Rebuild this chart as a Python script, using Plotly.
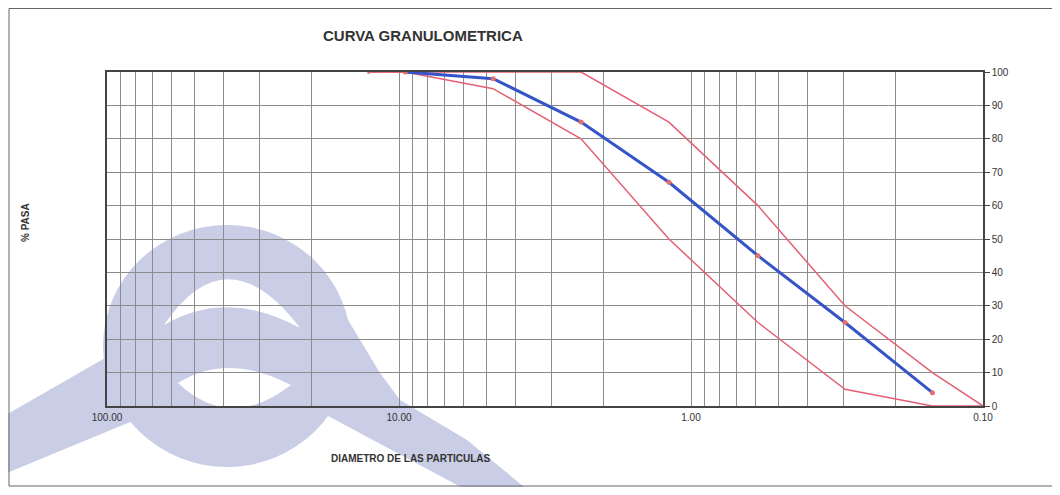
import plotly.graph_objects as go

# ---- data ----
tamiz = [12.7, 9.525, 4.76, 2.38, 1.19, 0.59, 0.297, 0.149, 0.10]
lim_sup = [100, 100, 100, 100, 85, 60, 30, 10, 0]
lim_inf = [100, 100, 95, 80, 50, 25, 5, 0, 0]
muestra_x = [9.525, 4.76, 2.38, 1.19, 0.59, 0.297, 0.149]
muestra_y = [100, 98, 85, 67, 45, 25, 4]

x_ticks = [100, 10, 1, 0.1]
x_ticktext = ["100.00", "10.00", "1.00", "0.10"]
x_minor = [m * 10 ** e for e in (-1, 0, 1) for m in range(2, 10)]
y_ticks = list(range(0, 101, 10))

# ---- layout geometry (reference pixels; page body has an 8px margin) ----
OFF = 8
W, H = 1060 - 2 * OFF, 495 - 2 * OFF
PL, PR, PT, PB = 107, 983, 72, 406          # plot box in reference pixels
ML, MT = PL - OFF, PT - OFF
MR, MB = W - (PR - OFF), H - (PB - OFF)
PW, PH = PR - PL, PB - PT


def px(x, y):
    return (x - PL) / PW, (PB - y) / PH


def path(cmds):
    s = []
    for cmd, pts in cmds:
        s.append(cmd + " " + " ".join("%.5f,%.5f" % px(*p) for p in pts))
    return " ".join(s) + " Z"


def poly(pts):
    return path([("M", [pts[0]])] + [("L", [p]) for p in pts[1:]])


fig = go.Figure()

red = "rgb(228,96,116)"
blue = "rgb(52,84,200)"
dot = "rgb(232,112,104)"

fig.add_trace(go.Scatter(x=tamiz, y=lim_sup, mode="lines+markers",
                         line=dict(color=red, width=1.5),
                         marker=dict(color=red, size=[5] + [0] * (len(tamiz) - 1)),
                         showlegend=False, hoverinfo="x+y"))
fig.add_trace(go.Scatter(x=tamiz, y=lim_inf, mode="lines",
                         line=dict(color=red, width=1.5),
                         showlegend=False, hoverinfo="x+y"))
fig.add_trace(go.Scatter(x=muestra_x, y=muestra_y, mode="lines+markers",
                         line=dict(color=blue, width=3),
                         marker=dict(color=dot, size=5),
                         showlegend=False, hoverinfo="x+y"))

# ---- watermark (decorative) ----
lav = "rgb(201,205,229)"
shapes = []
x0, y0 = px(227 - 124, 346 - 121)
x1, y1 = px(227 + 124, 346 + 121)
shapes.append(dict(type="circle", xref="paper", yref="paper", x0=x0, x1=x1, y0=y0, y1=y1,
                   fillcolor=lav, line=dict(width=0), layer="below"))
shapes.append(dict(type="path", xref="paper", yref="paper", layer="below",
                   path=poly([(-10, 424), (112, 354), (135, 420), (-10, 480)]),
                   fillcolor=lav, line=dict(width=0)))
shapes.append(dict(type="path", xref="paper", yref="paper", layer="below",
                   path=poly([(330, 290), (380, 373), (400, 400), (467, 440),
                              (540, 500), (485, 500), (330, 417), (295, 400)]),
                   fillcolor=lav, line=dict(width=0)))
shapes.append(dict(type="path", xref="paper", yref="paper", layer="below",
                   path=path([("M", [(164, 325)]), ("Q", [(227, 232), (300, 328)]),
                              ("Q", [(227, 288), (164, 325)])]),
                   fillcolor="white", line=dict(width=0)))
shapes.append(dict(type="path", xref="paper", yref="paper", layer="below",
                   path=path([("M", [(178, 383)]), ("Q", [(227, 352), (291, 385)]),
                              ("Q", [(230, 432), (178, 383)])]),
                   fillcolor="white", line=dict(width=0)))
# scanned page frame (kept just inside the figure)
fx0, fy0 = px(OFF + 1, OFF + 0.5)
fx1, fy1 = px(OFF + W, OFF + H - 1)
frame = "#666666"
shapes.append(dict(type="line", xref="paper", yref="paper", x0=fx0, x1=fx1, y0=fy0, y1=fy0,
                   line=dict(color=frame, width=1)))
shapes.append(dict(type="line", xref="paper", yref="paper", x0=fx0, x1=fx0, y0=fy0, y1=fy1,
                   line=dict(color=frame, width=1)))
shapes.append(dict(type="line", xref="paper", yref="paper", x0=fx0, x1=fx1, y0=fy1, y1=fy1,
                   line=dict(color=frame, width=1)))

font = "Liberation Sans, Arial, sans-serif"
tx, ty = px(423, 35)
ax_, ay_ = px(411, 458)
yx, yy = px(26, 223)
annotations = [
    dict(text="<b>CURVA GRANULOMETRICA</b>", x=tx, y=ty, xref="paper", yref="paper",
         xanchor="center", yanchor="middle",
         showarrow=False, font=dict(family=font, size=15, color="#333333")),
    dict(text="<b>DIAMETRO DE LAS PARTICULAS</b>", x=ax_, y=ay_, xref="paper", yref="paper",
         xanchor="center", yanchor="middle",
         showarrow=False, font=dict(family=font, size=10, color="#333333")),
    dict(text="<b>% PASA</b>", x=yx, y=yy, xref="paper", yref="paper", textangle=-90,
         xanchor="center", yanchor="middle",
         showarrow=False, font=dict(family=font, size=10, color="#333333")),
]

grid = "rgb(140,140,140)"
fig.update_layout(
    width=W, height=H,
    margin=dict(l=ML, r=MR, t=MT, b=MB),
    paper_bgcolor="white",
    plot_bgcolor="rgba(0,0,0,0)",
    shapes=shapes,
    annotations=annotations,
    font=dict(family=font, size=10, color="#333333"),
    xaxis=dict(type="log", range=[2, -1], tickvals=x_ticks, ticktext=x_ticktext,
               showgrid=True, gridcolor=grid, gridwidth=1,
               minor=dict(tickvals=x_minor, showgrid=True, gridcolor=grid, gridwidth=1, ticks=""),
               showline=True, linecolor="#444444", linewidth=1.5, mirror=True,
               ticks="outside", ticklen=1, tickcolor="rgba(0,0,0,0)",
               tickfont=dict(size=10, color="#333333"), zeroline=False),
    yaxis=dict(range=[0, 100], tickvals=y_ticks, side="right",
               showgrid=True, gridcolor=grid, gridwidth=1,
               showline=True, linecolor="#444444", linewidth=1.5, mirror=True,
               ticks="outside", ticklen=5, tickcolor="#444444",
               tickfont=dict(size=10, color="#333333"), zeroline=False),
)

fig.write_html("out.html")
